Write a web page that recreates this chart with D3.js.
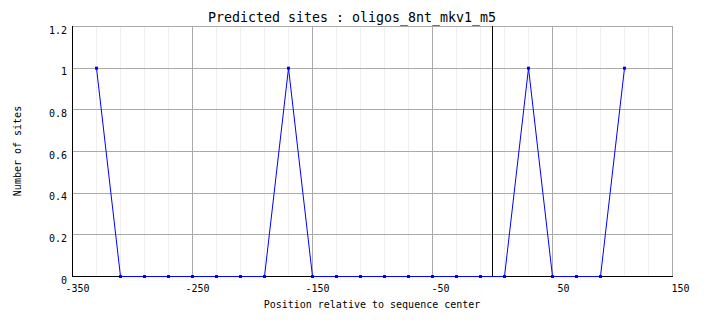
<!DOCTYPE html>
<html>
<head>
<meta charset="utf-8">
<script src="https://cdn.jsdelivr.net/npm/d3@7"></script>
<style>
  html, body { margin: 0; padding: 0; background: #fff; }
  svg { display: block; }
  text { font-family: "DejaVu Sans Mono", monospace; fill: #000; }
</style>
</head>
<body>
<svg id="chart" width="704" height="328"></svg>
<script>
const title = "Predicted sites : oligos_8nt_mkv1_m5";
const xTitle = "Position relative to sequence center";
const yTitle = "Number of sites";

const positions = [-330, -310, -290, -270, -250, -230, -210, -190, -170, -150, -130, -110,
                   -90, -70, -50, -30, -10, 10, 30, 50, 70, 90, 110];
const sites =     [1, 0, 0, 0, 0, 0, 0, 0, 1, 0, 0, 0,
                   0, 0, 0, 0, 0, 0, 1, 0, 0, 0, 1];

const xTicks = [-350, -250, -150, -50, 50, 150];
const xMinorTicks = [-330, -310, -290, -270, -230, -210, -190, -170, -130, -110, -90, -70,
                     -30, -10, 10, 30, 70, 90, 110, 130];
const yTicks = [0, 0.2, 0.4, 0.6, 0.8, 1, 1.2];
const yTickLabels = ["0", "0.2", "0.4", "0.6", "0.8", "1", "1.2"];
const centerMark = 0;

const mLeft = 72, mRight = 672, mTop = 26, mBottom = 276;

const svg = d3.select("#chart");
const x = d3.scaleLinear().domain([-350, 150]).range([mLeft, mRight]);
const y = d3.scaleLinear().domain([0, 1.2]).range([mBottom, mTop]);

// minor vertical gridlines
svg.append("g").selectAll("line").data(xMinorTicks).join("line")
  .attr("x1", d => Math.round(x(d)) + 0.5).attr("x2", d => Math.round(x(d)) + 0.5)
  .attr("y1", mTop).attr("y2", mBottom)
  .attr("stroke", "#efefef").attr("stroke-width", 1);

// major vertical gridlines
svg.append("g").selectAll("line").data(xTicks).join("line")
  .attr("x1", d => Math.round(x(d)) + 0.5).attr("x2", d => Math.round(x(d)) + 0.5)
  .attr("y1", mTop).attr("y2", mBottom)
  .attr("stroke", "#aaaaaa").attr("stroke-width", 1);

// horizontal gridlines
svg.append("g").selectAll("line").data(yTicks).join("line")
  .attr("x1", mLeft).attr("x2", mRight)
  .attr("y1", d => Math.round(y(d)) + 0.5).attr("y2", d => Math.round(y(d)) + 0.5)
  .attr("stroke", "#aaaaaa").attr("stroke-width", 1);

// center marker
svg.append("line")
  .attr("x1", Math.round(x(centerMark)) + 0.5).attr("x2", Math.round(x(centerMark)) + 0.5)
  .attr("y1", mTop).attr("y2", mBottom)
  .attr("stroke", "#000").attr("stroke-width", 1);

// axes lines
svg.append("line").attr("x1", mLeft + 0.5).attr("x2", mLeft + 0.5)
  .attr("y1", mTop).attr("y2", mBottom + 1).attr("stroke", "#000");
svg.append("line").attr("x1", mLeft).attr("x2", mRight + 1)
  .attr("y1", mBottom + 0.5).attr("y2", mBottom + 0.5).attr("stroke", "#000");

// series line
const line = d3.line().x(d => x(d[0]) + 0.5).y(d => y(d[1]) + 0.5);
const pts = positions.map((p, i) => [p, sites[i]]);
svg.append("path").datum(pts)
  .attr("d", line).attr("fill", "none")
  .attr("stroke", "#0000ff").attr("stroke-width", 1);

// point markers
svg.append("g").selectAll("rect").data(pts).join("rect")
  .attr("x", d => x(d[0]) - 1).attr("y", d => y(d[1]) - 1)
  .attr("width", 3).attr("height", 3)
  .attr("fill", "#0000ff");

// x tick labels
svg.append("g").selectAll("text").data(xTicks).join("text")
  .attr("x", d => x(d) + 17.5).attr("y", mBottom + 16)
  .attr("text-anchor", "end")
  .attr("font-size", "10px")
  .text(d => d);

// y tick labels
svg.append("g").selectAll("text").data(yTicks).join("text")
  .attr("x", mLeft - 5).attr("y", d => y(d) + 7.5)
  .attr("text-anchor", "end")
  .attr("font-size", "10px")
  .text((d, i) => yTickLabels[i]);

// title
svg.append("text").attr("x", 352).attr("y", 22)
  .attr("text-anchor", "middle").attr("font-size", "13.3px").text(title);

// x axis title
svg.append("text").attr("x", (mLeft + mRight) / 2).attr("y", 307.5)
  .attr("text-anchor", "middle").attr("font-size", "10px").text(xTitle);

// y axis title
svg.append("text")
  .attr("transform", `translate(21, ${(mTop + mBottom) / 2}) rotate(-90)`)
  .attr("text-anchor", "middle").attr("font-size", "10px").text(yTitle);
</script>
</body>
</html>
